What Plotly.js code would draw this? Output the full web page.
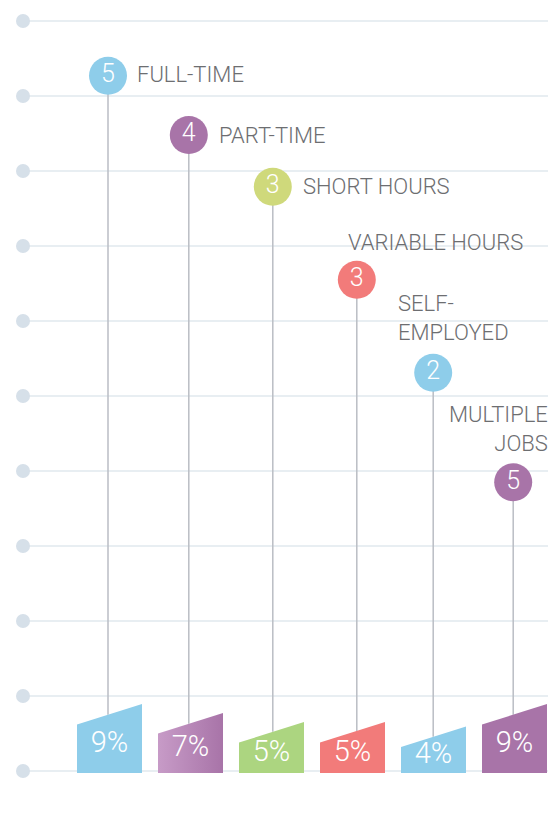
<!DOCTYPE html>
<html>
<head>
<meta charset="utf-8">
<script src="https://cdn.plot.ly/plotly-3.0.1.min.js"></script>
<style>html,body{margin:0;padding:0;background:#fff}#chart{width:557px;height:816px}</style>
</head>
<body>
<div id="chart"></div>
<script>
// ---- data ----
const categories = ['FULL-TIME', 'PART-TIME', 'SHORT HOURS', 'VARIABLE HOURS', 'SELF-EMPLOYED', 'MULTIPLE JOBS'];
const labelText = ['FULL-TIME', 'PART-TIME', 'SHORT HOURS', 'VARIABLE HOURS', 'SELF-<br>EMPLOYED', 'MULTIPLE<br>JOBS'];
const counts = [5, 4, 3, 3, 2, 5];
const percents = [9, 7, 5, 5, 4, 9];
const stemTop = [9.27, 8.48, 7.79, 6.55, 5.31, 3.85];
const gridLevels = [0, 1, 2, 3, 4, 5, 6, 7, 8, 9, 10];

// ---- style ----
const circleColors = ['#8ecdea', '#a874a8', '#cfd97b', '#f27b7a', '#8ecdea', '#a874a8'];
const barColors = ['#8ecdea', '#a874a8', '#acd580', '#f27b7a', '#8ecdea', '#a874a8'];
const FONT = "Roboto, 'DejaVu Sans Condensed', sans-serif";
const W = 557, H = 816;
const PXX = 81, X0 = 109.5;          // px per category, px of first category
const PXY = 75, Y0 = 771;            // px per grid unit, px of level 0
const xr = [-X0 / PXX, (W - X0) / PXX];
const yr = [-(H - Y0) / PXY, Y0 / PXY];
const pxToX = p => xr[0] + p / PXX;
const stemShiftPx = [-1.5, -1.7, 1.3, 4.3, -0.3, -1.3];

const halfW = 32.5 / PXX;
const barLeftH = v => (8 + 4.5 * v) / PXY;
const barSlope = 20.5 / PXY;
const base = -2 / PXY;

const traces = [];
const idx = categories.map((c, i) => i);
const stemX = idx.map(i => i + stemShiftPx[i] / PXX);

// grid lines + dots
const gx0 = pxToX(23), gx1 = pxToX(548);
const shapes = gridLevels.map(g => ({
  type: 'line', xref: 'x', yref: 'y', x0: gx0, x1: gx1, y0: g, y1: g,
  line: {color: '#e1e8ee', width: 1.5}, layer: 'below'
}));
traces.push({
  type: 'scatter', mode: 'markers', x: gridLevels.map(() => gx0), y: gridLevels,
  marker: {size: 14, color: '#d6e0e9'}, hoverinfo: 'skip', showlegend: false
});

// stems
idx.forEach(i => {
  const lh = barLeftH(percents[i]);
  const frac = (stemX[i] - (i - halfW)) / (2 * halfW);
  const topAt = base + lh + barSlope * frac;
  traces.push({
    type: 'scatter', mode: 'lines', x: [stemX[i], stemX[i]], y: [topAt, stemTop[i]],
    line: {color: '#babdc4', width: 1.5}, hoverinfo: 'skip', showlegend: false
  });
});

// trapezoid bars
idx.forEach(i => {
  const lh = barLeftH(percents[i]);
  const t = {
    type: 'scatter', mode: 'lines', fill: 'toself',
    x: [i - halfW, i - halfW, i + halfW, i + halfW, i - halfW],
    y: [base, base + lh, base + lh + barSlope, base, base],
    line: {width: 0, color: barColors[i]}, fillcolor: barColors[i],
    hoverinfo: 'skip', showlegend: false
  };
  if (i === 1) {
    t.fillgradient = {type: 'horizontal', colorscale: [[0, '#c79bc7'], [1, '#a874a8']]};
  }
  traces.push(t);
});

// percent labels
traces.push({
  type: 'scatter', mode: 'text', x: idx,
  y: idx.map(i => base + (barLeftH(percents[i]) + barSlope / 2) / 2 - 1 / PXY),
  text: percents.map(p => p + '%'), textposition: 'middle center',
  textfont: {family: FONT, size: 29, color: '#ffffff', weight: 300}, hoverinfo: 'skip', showlegend: false
});

// circles
traces.push({
  type: 'scatter', mode: 'markers+text', x: stemX, y: stemTop,
  marker: {size: 38, color: circleColors}, text: counts.map(String),
  textposition: 'middle center', textfont: {family: FONT, size: 25, color: '#ffffff', weight: 300},
  hoverinfo: 'skip', showlegend: false
});

// category labels
const labelPos = [
  {xa: 'left', dx: 26.5, dy: 1, align: 'left'},
  {xa: 'left', dx: 28.5, dy: 0, align: 'left'},
  {xa: 'left', dx: 28.5, dy: 0, align: 'left'},
  {xa: 'left', dx: -10.5, dy: 37, align: 'left'},
  {xa: 'left', dx: -37.5, dy: 54.5, align: 'left'},
  {xa: 'right', dx: 37, dy: 53.5, align: 'right'}
];
const annotations = idx.map(i => ({
  x: stemX[i], y: stemTop[i], xref: 'x', yref: 'y', text: labelText[i], showarrow: false,
  xanchor: labelPos[i].xa, yanchor: 'middle', align: labelPos[i].align,
  xshift: labelPos[i].dx, yshift: labelPos[i].dy,
  font: {family: FONT, size: 22, color: '#6d6e71', weight: 300}
}));

const layout = {
  width: W, height: H, margin: {l: 0, r: 0, t: 0, b: 0},
  paper_bgcolor: '#ffffff', plot_bgcolor: '#ffffff',
  xaxis: {range: xr, visible: false, fixedrange: true},
  yaxis: {range: yr, visible: false, fixedrange: true},
  shapes: shapes, annotations: annotations, showlegend: false
};
Plotly.newPlot('chart', traces, layout, {displayModeBar: false, staticPlot: true});
</script>
</body>
</html>
